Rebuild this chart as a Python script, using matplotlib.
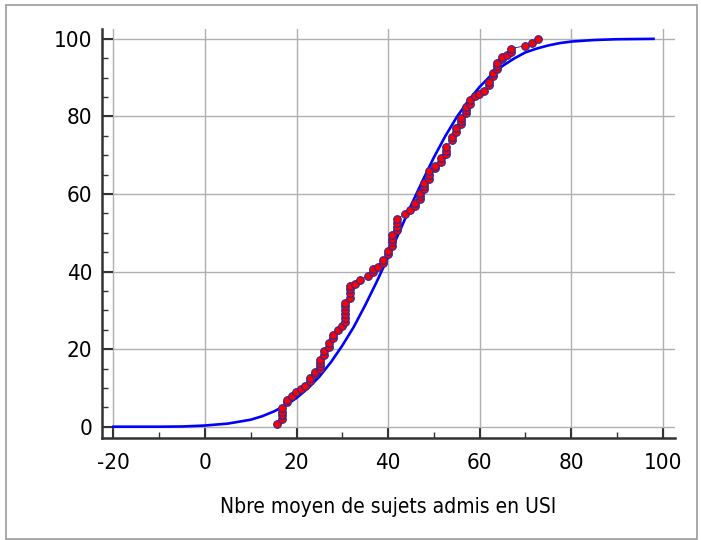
from matplotlib import pyplot as plt
from matplotlib.patches import Rectangle
from matplotlib.ticker import MultipleLocator

# empirical points (mean number admitted in ICU, cumulative %)
obs_x = [15.8, 16.8, 16.8, 16.8, 16.8, 17.9, 17.9, 19.0, 19.8, 20.9,
         21.9, 22.9, 22.9, 24.0, 24.0, 25.1, 25.1, 25.1, 25.1, 25.9,
         25.9, 27.0, 27.0, 28.0, 28.0, 29.0, 30.0, 30.7, 30.7, 30.7,
         30.7, 30.7, 30.7, 31.7, 31.7, 31.7, 31.7, 32.7, 33.8, 35.6,
         36.7, 36.7, 37.9, 38.8, 38.8, 39.9, 39.9, 40.9, 40.9, 40.9,
         40.9, 41.9, 41.9, 41.9, 41.9, 43.8, 44.9, 46.0, 46.0, 46.9,
         46.9, 46.9, 47.9, 47.9, 47.9, 49.0, 49.0, 49.0, 50.3, 50.3,
         51.5, 51.5, 52.7, 52.7, 52.7, 53.9, 53.9, 54.9, 54.9, 56.0,
         56.0, 56.0, 57.0, 57.0, 57.0, 57.9, 57.9, 59.0, 59.9, 60.9,
         62.0, 62.0, 63.0, 63.0, 63.9, 63.9, 63.9, 65.0, 65.0, 65.9,
         66.9, 66.9, 69.9, 71.5, 72.8]
obs_y = [0.6, 1.9, 2.9, 3.9, 4.9, 6.3, 6.9, 7.9, 8.9, 9.8,
         10.6, 11.8, 12.5, 13.5, 14.2, 14.9, 15.6, 16.3, 17.1, 18.4,
         19.4, 20.6, 21.5, 22.8, 23.7, 25.0, 26.0, 27.0, 28.0, 29.0,
         30.0, 31.0, 31.9, 33.3, 34.4, 35.4, 36.2, 36.9, 37.9, 38.8,
         39.8, 40.6, 41.3, 42.2, 43.1, 44.5, 45.4, 46.5, 47.5, 48.5,
         49.5, 50.6, 51.6, 52.6, 53.6, 54.9, 55.9, 56.9, 57.7, 58.7,
         59.6, 60.3, 61.2, 62.0, 62.8, 63.8, 64.8, 65.8, 66.6, 67.3,
         68.3, 69.2, 70.2, 71.2, 72.2, 73.9, 74.8, 76.0, 76.9, 78.1,
         78.8, 79.5, 80.9, 81.7, 82.5, 83.3, 84.2, 85.3, 85.9, 86.6,
         88.0, 89.0, 90.3, 91.1, 92.1, 93.0, 93.9, 94.7, 95.3, 95.9,
         96.6, 97.5, 98.2, 98.9, 99.9]

# fitted curve
fit_x = [-20, -15, -10, -5, 0, 5, 10, 12.5, 15, 17.5, 20, 22.5, 25, 27.5,
         30, 32.5, 35, 37.5, 40, 42.5, 45, 47.5, 50, 52.5, 55, 57.5, 60,
         62.5, 65, 67.5, 70, 72.5, 75, 77.5, 80, 85, 90, 98]
fit_y = [0, 0, 0, 0.05, 0.3, 0.8, 1.8, 2.7, 3.9, 5.4, 7.4, 9.9, 12.9, 16.6,
         20.9, 25.7, 31.3, 37.3, 43.7, 50.3, 57.0, 63.3, 69.4, 74.9, 79.8,
         84.0, 87.6, 90.6, 93.0, 94.9, 96.5, 97.5, 98.3, 98.9, 99.3, 99.7,
         99.9, 100]

xlabel = 'Nbre moyen de sujets admis en USI'

plt.rcParams['font.family'] = ['DejaVu Sans']
plt.rcParams['font.stretch'] = 'condensed'
plt.rcParams['axes.unicode_minus'] = False

fig = plt.figure(figsize=(7.01, 5.40), dpi=100)
ax = fig.add_axes([0.1455, 0.189, 0.8174, 0.757])

ax.plot(fit_x, fit_y, color='#0000ff', lw=1.9, zorder=3)
ax.plot(obs_x, obs_y, '-o', color='#1a1a8c', lw=0.6, ms=5.5, mfc='#ff0000',
        mec='#2a2a9c', mew=0.8, zorder=4)

ax.set_xlim(-22.5, 102.7)
ax.set_ylim(-2.9, 102.5)
ax.xaxis.set_major_locator(MultipleLocator(20))
ax.xaxis.set_minor_locator(MultipleLocator(10))
ax.yaxis.set_major_locator(MultipleLocator(20))
ax.yaxis.set_minor_locator(MultipleLocator(5))

ax.grid(True, which='major', color='#b0b0b0', lw=1.0)
ax.set_axisbelow(True)
for s in ['top', 'right']:
    ax.spines[s].set_visible(False)
for s in ['left', 'bottom']:
    ax.spines[s].set_color('#333333')
    ax.spines[s].set_linewidth(1.8)

ax.tick_params(which='major', direction='in', length=8, width=1.5,
               color='#333333', labelsize=16, pad=7)
ax.tick_params(which='minor', direction='in', length=4, width=1.0,
               color='#333333')
ax.tick_params(axis='x', which='major', pad=11)

ax.set_xlabel(xlabel, fontsize=15, labelpad=17)

fig.patches.append(Rectangle((5.5 / 701, 1.5 / 540), 691 / 701, 534 / 540,
                             transform=fig.transFigure, fill=False,
                             edgecolor='#999999', lw=1.2))

fig.savefig('out.png', dpi=100)
